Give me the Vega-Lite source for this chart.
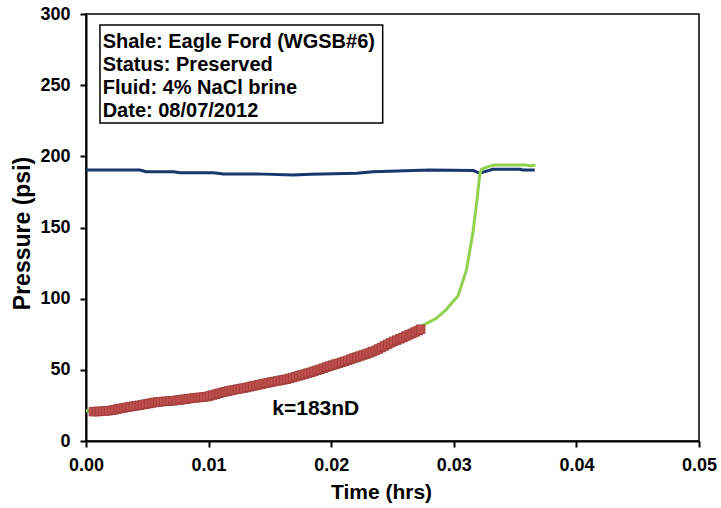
{
  "$schema": "https://vega.github.io/schema/vega-lite/v6.json",
  "width": 613,
  "height": 427,
  "autosize": {"type": "none"},
  "padding": {"left": 86, "top": 14, "right": 22, "bottom": 67},
  "background": "white",
  "config": {
    "view": {"stroke": "black", "strokeWidth": 1.5},
    "font": "Liberation Sans",
    "axis": {
      "grid": false,
      "domainColor": "black",
      "domainWidth": 2,
      "tickColor": "black",
      "tickWidth": 2,
      "tickSize": 6,
      "labelFont": "Liberation Sans",
      "labelFontSize": 18,
      "labelFontWeight": "bold",
      "labelColor": "black",
      "labelFlush": false,
      "labelOverlap": false,
      "titleFont": "Liberation Sans",
      "titleFontWeight": "bold",
      "titleColor": "black"
    }
  },
  "datasets": {
    "confining": [
      {"t": 0.0, "p": 190.4}, {"t": 0.0044, "p": 190.4}, {"t": 0.0049, "p": 189.2}, {"t": 0.0071, "p": 189.2},
      {"t": 0.0077, "p": 188.5}, {"t": 0.0104, "p": 188.5}, {"t": 0.0112, "p": 187.6}, {"t": 0.0145, "p": 187.5},
      {"t": 0.0169, "p": 186.9}, {"t": 0.0183, "p": 187.4}, {"t": 0.0221, "p": 188.1}, {"t": 0.0234, "p": 189.2},
      {"t": 0.028, "p": 190.4}, {"t": 0.0316, "p": 190.0}, {"t": 0.0321, "p": 188.1}, {"t": 0.0332, "p": 190.9},
      {"t": 0.0354, "p": 190.9}, {"t": 0.0356, "p": 190.4}, {"t": 0.0366, "p": 190.4}
    ],
    "pressure": [
      {"t": 0.0, "p": 21.2}, {"t": 0.0006, "p": 21.0}, {"t": 0.005, "p": 26.0}, {"t": 0.01, "p": 31.5},
      {"t": 0.015, "p": 41.0}, {"t": 0.02, "p": 53.0}, {"t": 0.025, "p": 70.0}, {"t": 0.0273, "p": 80.5},
      {"t": 0.02858, "p": 86.2}, {"t": 0.0294, "p": 92.5}, {"t": 0.03035, "p": 102.1}, {"t": 0.03103, "p": 120.1},
      {"t": 0.03157, "p": 147.0}, {"t": 0.0319, "p": 170.0}, {"t": 0.03211, "p": 186.9}, {"t": 0.03225, "p": 190.9},
      {"t": 0.0328, "p": 192.8}, {"t": 0.03333, "p": 193.9}, {"t": 0.0359, "p": 193.9}, {"t": 0.0363, "p": 193.2},
      {"t": 0.03667, "p": 194.0}
    ],
    "fit": [
      {"t": 0.0006, "p": 20.6}, {"t": 0.00085, "p": 20.7}, {"t": 0.0011, "p": 20.8}, {"t": 0.00135, "p": 20.9},
      {"t": 0.0016, "p": 21.1}, {"t": 0.00185, "p": 21.3}, {"t": 0.0021, "p": 21.6}, {"t": 0.00235, "p": 22.0},
      {"t": 0.0026, "p": 22.5}, {"t": 0.00285, "p": 22.9}, {"t": 0.0031, "p": 23.3}, {"t": 0.00335, "p": 23.7},
      {"t": 0.0036, "p": 24.1}, {"t": 0.00385, "p": 24.4}, {"t": 0.0041, "p": 24.8}, {"t": 0.00435, "p": 25.1},
      {"t": 0.0046, "p": 25.5}, {"t": 0.00485, "p": 25.9}, {"t": 0.0051, "p": 26.3}, {"t": 0.00535, "p": 26.7},
      {"t": 0.0056, "p": 27.1}, {"t": 0.00585, "p": 27.4}, {"t": 0.0061, "p": 27.6}, {"t": 0.00635, "p": 27.8},
      {"t": 0.0066, "p": 27.9}, {"t": 0.00685, "p": 28.1}, {"t": 0.0071, "p": 28.3}, {"t": 0.00735, "p": 28.5},
      {"t": 0.0076, "p": 28.8}, {"t": 0.00785, "p": 29.1}, {"t": 0.0081, "p": 29.4}, {"t": 0.00835, "p": 29.7},
      {"t": 0.0086, "p": 30.0}, {"t": 0.00885, "p": 30.3}, {"t": 0.0091, "p": 30.5}, {"t": 0.00935, "p": 30.7},
      {"t": 0.0096, "p": 30.9}, {"t": 0.00985, "p": 31.2}, {"t": 0.0101, "p": 31.7}, {"t": 0.01035, "p": 32.3},
      {"t": 0.0106, "p": 32.9}, {"t": 0.01085, "p": 33.5}, {"t": 0.0111, "p": 34.1}, {"t": 0.01135, "p": 34.6},
      {"t": 0.0116, "p": 35.1}, {"t": 0.01185, "p": 35.6}, {"t": 0.0121, "p": 36.0}, {"t": 0.01235, "p": 36.4},
      {"t": 0.0126, "p": 36.8}, {"t": 0.01285, "p": 37.2}, {"t": 0.0131, "p": 37.6}, {"t": 0.01335, "p": 38.1},
      {"t": 0.0136, "p": 38.6}, {"t": 0.01385, "p": 39.0}, {"t": 0.0141, "p": 39.5}, {"t": 0.01435, "p": 40.0},
      {"t": 0.0146, "p": 40.5}, {"t": 0.01485, "p": 40.9}, {"t": 0.0151, "p": 41.4}, {"t": 0.01535, "p": 41.8},
      {"t": 0.0156, "p": 42.2}, {"t": 0.01585, "p": 42.6}, {"t": 0.0161, "p": 43.0}, {"t": 0.01635, "p": 43.4},
      {"t": 0.0166, "p": 44.0}, {"t": 0.01685, "p": 44.6}, {"t": 0.0171, "p": 45.2}, {"t": 0.01735, "p": 45.8},
      {"t": 0.0176, "p": 46.4}, {"t": 0.01785, "p": 47.0}, {"t": 0.0181, "p": 47.7}, {"t": 0.01835, "p": 48.3},
      {"t": 0.0186, "p": 49.0}, {"t": 0.01885, "p": 49.7}, {"t": 0.0191, "p": 50.4}, {"t": 0.01935, "p": 51.1},
      {"t": 0.0196, "p": 51.9}, {"t": 0.01985, "p": 52.6}, {"t": 0.0201, "p": 53.3}, {"t": 0.02035, "p": 54.0},
      {"t": 0.0206, "p": 54.6}, {"t": 0.02085, "p": 55.3}, {"t": 0.0211, "p": 56.0}, {"t": 0.02135, "p": 56.7},
      {"t": 0.0216, "p": 57.5}, {"t": 0.02185, "p": 58.3}, {"t": 0.0221, "p": 59.0}, {"t": 0.02235, "p": 59.7},
      {"t": 0.0226, "p": 60.4}, {"t": 0.02285, "p": 61.1}, {"t": 0.0231, "p": 61.9}, {"t": 0.02335, "p": 62.7},
      {"t": 0.0236, "p": 63.6}, {"t": 0.02385, "p": 64.6}, {"t": 0.0241, "p": 65.7}, {"t": 0.02435, "p": 66.8},
      {"t": 0.0246, "p": 67.9}, {"t": 0.02485, "p": 69.0}, {"t": 0.0251, "p": 70.0}, {"t": 0.02535, "p": 70.9},
      {"t": 0.0256, "p": 71.8}, {"t": 0.02585, "p": 72.7}, {"t": 0.0261, "p": 73.7}, {"t": 0.02635, "p": 74.6},
      {"t": 0.0266, "p": 75.6}, {"t": 0.02685, "p": 76.6}, {"t": 0.0271, "p": 77.6}, {"t": 0.0273, "p": 78.5}
    ]
  },
  "layer": [
    {
      "data": {"name": "confining"},
      "mark": {"type": "line", "color": "#17376E", "strokeWidth": 3},
      "encoding": {
        "x": {
          "field": "t", "type": "quantitative",
          "scale": {"domain": [0, 0.05], "nice": false},
          "axis": {
            "values": [0, 0.01, 0.02, 0.03, 0.04, 0.05], "format": ".2f",
            "labelPadding": 9,
            "title": "Time (hrs)", "titleFontSize": 21, "titleX": 295, "titleY": 51, "titleBaseline": "middle", "titleAlign": "center"
          }
        },
        "y": {
          "field": "p", "type": "quantitative",
          "scale": {"domain": [0, 300], "nice": false},
          "axis": {
            "values": [0, 50, 100, 150, 200, 250, 300],
            "labelPadding": 10,
            "title": "Pressure (psi)", "titleFontSize": 23, "titleX": -64, "titleY": 219, "titleBaseline": "middle", "titleAlign": "center", "titleAngle": -90
          }
        }
      }
    },
    {
      "data": {"name": "pressure"},
      "mark": {"type": "line", "color": "#92D050", "strokeWidth": 3},
      "encoding": {
        "x": {"field": "t", "type": "quantitative"},
        "y": {"field": "p", "type": "quantitative"}
      }
    },
    {
      "data": {"name": "fit"},
      "mark": {"type": "point", "shape": "square", "filled": true, "size": 72, "fill": "#C0504D", "stroke": "#A33F3C", "strokeWidth": 1, "opacity": 1},
      "encoding": {
        "x": {"field": "t", "type": "quantitative"},
        "y": {"field": "p", "type": "quantitative"}
      }
    },
    {
      "data": {"values": [{}]},
      "mark": {"type": "rect", "fill": "white", "stroke": "black", "strokeWidth": 1.5},
      "encoding": {
        "x": {"datum": 0.00114, "type": "quantitative"},
        "x2": {"datum": 0.0242},
        "y": {"datum": 223.4, "type": "quantitative"},
        "y2": {"datum": 292.3}
      }
    },
    {
      "data": {"values": [{}]},
      "mark": {
        "type": "text",
        "text": ["Shale: Eagle Ford (WGSB#6)", "Status: Preserved", "Fluid: 4% NaCl brine", "Date: 08/07/2012"],
        "align": "left", "baseline": "alphabetic", "lineHeight": 22.8,
        "font": "Liberation Sans", "fontSize": 20, "fontWeight": "bold", "color": "black"
      },
      "encoding": {
        "x": {"datum": 0.00136, "type": "quantitative"},
        "y": {"datum": 276.0, "type": "quantitative"}
      }
    },
    {
      "data": {"values": [{"label": "k=183nD"}]},
      "mark": {"type": "text", "align": "center", "baseline": "alphabetic", "font": "Liberation Sans", "fontSize": 21, "fontWeight": "bold", "color": "black"},
      "encoding": {
        "text": {"field": "label"},
        "x": {"datum": 0.01874, "type": "quantitative"},
        "y": {"datum": 18.3, "type": "quantitative"}
      }
    }
  ]
}
